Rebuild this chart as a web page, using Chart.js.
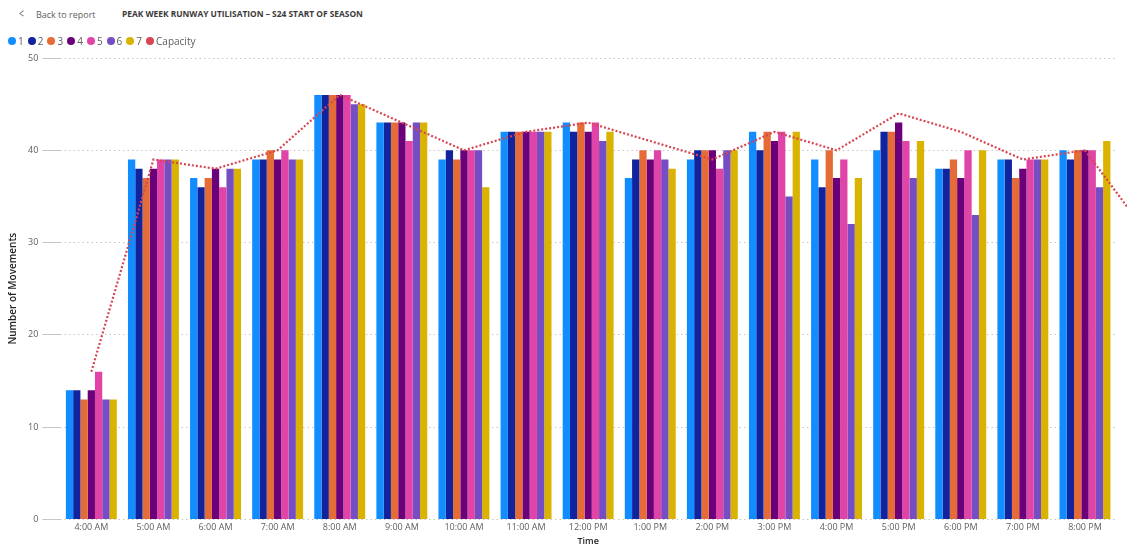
<!DOCTYPE html>
<html>
<head>
<meta charset="utf-8">
<script src="https://cdn.jsdelivr.net/npm/chart.js@4"></script>
<style>
  html, body { margin: 0; padding: 0; background: #fff; }
  body { width: 1127px; height: 545px; position: relative; overflow: hidden; font-family: "Open Sans", "Noto Sans", sans-serif; }
  .back { position: absolute; left: 18px; top: 5px; font-size: 9px; color: #605E5C; }
  .back span { display: inline-block; margin-right: 11px; font-size: 12px; transform: scaleX(0.7); }
  .title { position: absolute; left: 122px; top: 8px; font-size: 8.4px; font-weight: 700; color: #3B3A39; letter-spacing: 0px; }
  #legend { position: absolute; left: 8px; top: 33px; display: flex; font-size: 10px; color: #605E5C; line-height: 16px; z-index: 2; }
  #legend .item { display: flex; align-items: center; margin-right: 4px; }
  #legend .dot { width: 8px; height: 8px; border-radius: 50%; margin-right: 2px; }
  #wrap { position: absolute; left: 0; top: 0; width: 1127px; height: 548px; }
</style>
</head>
<body>
<div class="back"><span>&lt;</span>Back to report</div>
<div class="title">PEAK WEEK RUNWAY UTILISATION – S24 START OF SEASON</div>
<div id="legend"></div>
<div id="wrap"><canvas id="chart"></canvas></div>
<script>
// time slots on the x axis
const times = ['4:00 AM', '5:00 AM', '6:00 AM', '7:00 AM', '8:00 AM', '9:00 AM', '10:00 AM', '11:00 AM',
    '12:00 PM', '1:00 PM', '2:00 PM', '3:00 PM', '4:00 PM', '5:00 PM', '6:00 PM', '7:00 PM', '8:00 PM'];

// movements per day of the peak week (1..7)
const day1 = [14, 39, 37, 39, 46, 43, 39, 42, 43, 37, 39, 42, 39, 40, 38, 39, 40];
const day2 = [14, 38, 36, 39, 46, 43, 40, 42, 42, 39, 40, 40, 36, 42, 38, 39, 39];
const day3 = [13, 37, 37, 40, 46, 43, 39, 42, 43, 40, 40, 42, 40, 42, 39, 37, 40];
const day4 = [14, 38, 38, 39, 46, 43, 40, 42, 42, 39, 40, 41, 37, 43, 37, 38, 40];
const day5 = [16, 39, 36, 40, 46, 41, 40, 42, 43, 40, 38, 42, 39, 41, 40, 39, 40];
const day6 = [13, 39, 38, 39, 45, 43, 40, 42, 41, 39, 40, 35, 32, 37, 33, 39, 36];
const day7 = [13, 39, 38, 39, 45, 43, 36, 42, 42, 38, 40, 42, 37, 41, 40, 39, 41];

// declared capacity, plus the next slot the line runs off towards
const capacity = [16, 39, 38, 40, 46, 43, 40, 42, 43, 41, 39, 42, 40, 44, 42, 39, 40];
const capacityNext = 31;

const yTicks = [0, 10, 20, 30, 40, 50];

const dayColors = ['#118DFF', '#12239E', '#E66C37', '#6B007B', '#E044A7', '#744EC2', '#D9B300'];
const capColor = '#D64550';
const days = [day1, day2, day3, day4, day5, day6, day7];

const datasets = days.map((d, i) => ({
    type: 'bar',
    label: String(i + 1),
    data: d,
    backgroundColor: dayColors[i],
    borderWidth: 0,
    categoryPercentage: 0.82,
    barPercentage: 1.0,
    order: 2
}));
datasets.push({
    type: 'line',
    label: 'Capacity',
    data: capacity,
    borderColor: capColor,
    backgroundColor: capColor,
    borderWidth: 2.2,
    borderDash: [2, 2],
    pointRadius: 0,
    tension: 0,
    order: 1
});

// continue the capacity line past the last slot, like the original does
const runOff = {
    id: 'runOff',
    afterDatasetsDraw(chart) {
        const x = chart.scales.x, y = chart.scales.y;
        const n = capacity.length;
        const ctx = chart.ctx;
        ctx.save();
        ctx.strokeStyle = capColor;
        ctx.lineWidth = 2.2;
        ctx.setLineDash([2, 2]);
        ctx.beginPath();
        ctx.moveTo(x.getPixelForValue(n - 1), y.getPixelForValue(capacity[n - 1]));
        ctx.lineTo(x.getPixelForValue(n), y.getPixelForValue(capacityNext));
        ctx.stroke();
        ctx.restore();
    }
};

const chart = new Chart(document.getElementById('chart'), {
    type: 'bar',
    data: { labels: times, datasets: datasets },
    plugins: [runOff],
    options: {
        responsive: true,
        maintainAspectRatio: false,
        animation: false,
        layout: { padding: { top: 58, right: 11, left: 7, bottom: 1 } },
        plugins: {
            tooltip: { enabled: false },
            legend: { display: false }
        },
        scales: {
            x: {
                grid: { display: false, drawTicks: false },
                border: { display: false },
                ticks: { color: '#605E5C', font: { family: 'Open Sans', size: 9 }, maxRotation: 0, autoSkip: false, padding: 3 },
                title: { display: true, text: 'Time', color: '#252423', font: { family: 'Open Sans', size: 9, weight: '600' }, padding: { top: 0, bottom: 0 } }
            },
            y: {
                min: 0,
                max: 50,
                afterBuildTicks(axis) { axis.ticks = yTicks.map(v => ({ value: v })); },
                border: { display: false, dash: [1.5, 3] },
                grid: { color: '#C8C6C4', lineWidth: 1, tickLength: 18, drawTicks: true },
                ticks: { color: '#605E5C', font: { family: 'Open Sans', size: 9 }, padding: 4 },
                title: { display: true, text: 'Number of Movements', color: '#252423', font: { family: 'Open Sans', size: 10, weight: '600' }, padding: { top: 0, bottom: 5 } }
            }
        }
    }
});

// legend row built from the chart's datasets
const legend = document.getElementById('legend');
chart.data.datasets.forEach(ds => {
    const item = document.createElement('div');
    item.className = 'item';
    item.innerHTML = '<span class="dot" style="background:' + ds.backgroundColor + '"></span>' + ds.label;
    legend.appendChild(item);
});
</script>
</body>
</html>
